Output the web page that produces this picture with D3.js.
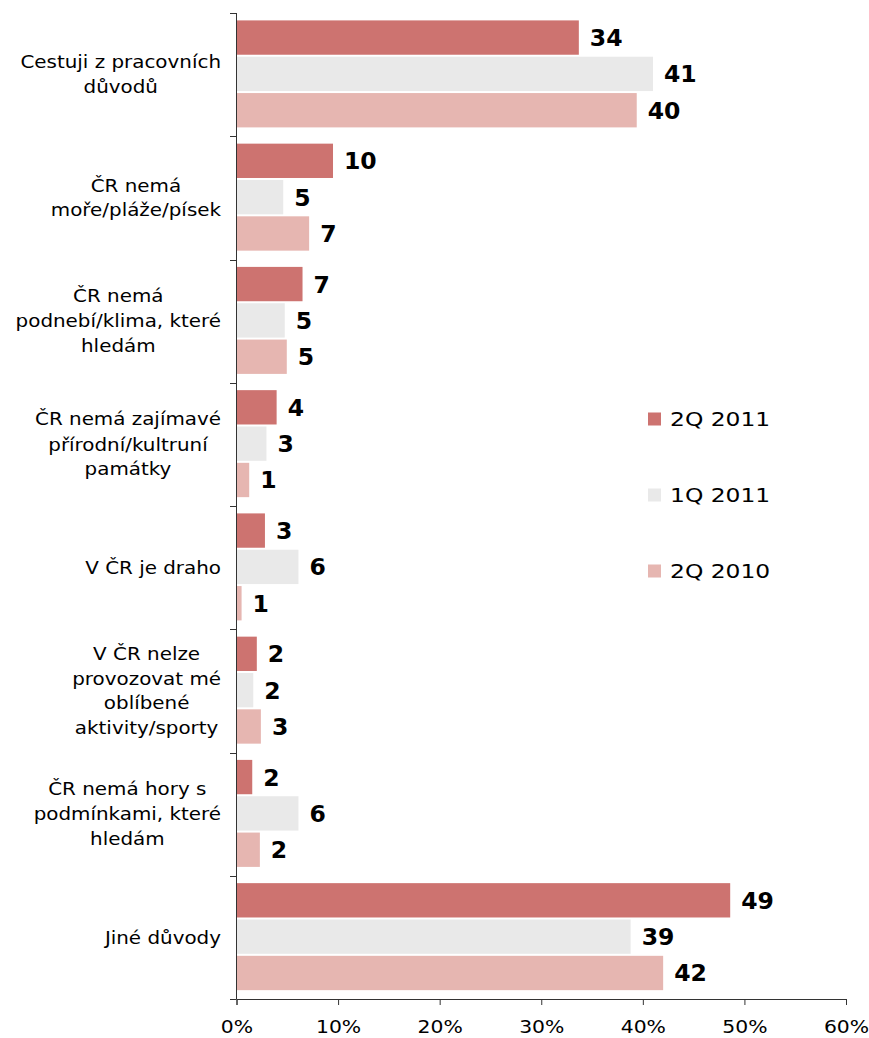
<!DOCTYPE html>
<html><head><meta charset="utf-8">
<script src="https://cdn.jsdelivr.net/npm/d3@7"></script>
<style>body{margin:0;background:#fff}svg{display:block}</style>
</head><body>
<svg id="c" width="869" height="1038"></svg>
<script>
const categories = [
  ["Cestuji z pracovních","důvodů"],
  ["ČR nemá","moře/pláže/písek"],
  ["ČR nemá","podnebí/klima, které","hledám"],
  ["ČR nemá zajímavé","přírodní/kultruní","památky"],
  ["V ČR je draho"],
  ["V ČR nelze","provozovat mé","oblíbené","aktivity/sporty"],
  ["ČR nemá hory s","podmínkami, které","hledám"],
  ["Jiné důvody"]
];
const seriesNames = ["2Q 2011","1Q 2011","2Q 2010"];
const s2Q2011 = [33.7, 9.5, 6.5, 3.95, 2.8, 2.0, 1.55, 48.6];
const s1Q2011 = [41.0, 4.6, 4.75, 2.95, 6.1, 1.65, 6.1, 38.8];
const s2Q2010 = [39.4, 7.15, 4.95, 1.25, 0.5, 2.4, 2.3, 42.0];
const lab2Q2011 = ["34","10","7","4","3","2","2","49"];
const lab1Q2011 = ["41","5","5","3","6","2","6","39"];
const lab2Q2010 = ["40","7","5","1","1","3","2","42"];
const xTicks = [0,10,20,30,40,50,60];
const colors = ["#CD7370","#E9E9E9","#E6B6B1"];

const series = [s2Q2011, s1Q2011, s2Q2010];
const labels = [lab2Q2011, lab1Q2011, lab2Q2010];

const svg = d3.select("#c");
const x = d3.scaleLinear().domain([0,60]).range([236.5, 846]);
const y = d3.scaleBand().domain(d3.range(categories.length)).range([13, 999]).padding(0);
const yi = d3.scaleBand().domain([0,1,2]).range([7.4, 114.4]).paddingInner(0.055).paddingOuter(0);

const txtFont = "DejaVu Sans, Verdana, sans-serif";

// bars
const g = svg.append("g");
categories.forEach((c, ci) => {
  series.forEach((s, si) => {
    const top = y(ci) + yi(si);
    g.append("rect")
      .attr("x", x(0)).attr("y", top)
      .attr("width", x(s[ci]) - x(0)).attr("height", yi.bandwidth())
      .attr("fill", colors[si]);
    g.append("text")
      .attr("x", x(s[ci]) + 11).attr("y", top + yi.bandwidth()/2)
      .attr("dy", "0.36em")
      .attr("font-family", txtFont).attr("font-weight", "bold").attr("font-size", 23.5)
      .attr("fill", "#000")
      .text(labels[si][ci]);
  });
});

// left axis line and ticks
const ax = svg.append("g").attr("stroke", "#333").attr("stroke-width", 1);
ax.append("line").attr("x1", 236.5).attr("x2", 236.5).attr("y1", 13).attr("y2", 999);
const bounds = categories.map((c,i)=>y(i)).concat([999]);
bounds.forEach(b => {
  ax.append("line").attr("x1", 230).attr("x2", 236.5).attr("y1", Math.round(b)+0.5).attr("y2", Math.round(b)+0.5);
});

// bottom axis
const xa = svg.append("g").attr("transform", "translate(0,999)")
  .call(d3.axisBottom(x).tickValues(xTicks).tickFormat(d => d + "%").tickSizeOuter(0).tickSize(6).tickPadding(15));
xa.select(".domain").attr("stroke", "#333");
xa.selectAll(".tick line").attr("stroke", "#333");
xa.selectAll("text").attr("font-family", txtFont).attr("font-size", 18.5).attr("fill", "#000")
  .attr("transform", "scale(1.1,1)");

// category labels (centered block, right edge at ~221)
const sx = 1.17;
const lh = 25;
categories.forEach((lines, ci) => {
  const cy = y(ci) + y.bandwidth()/2;
  const tg = svg.append("g");
  const ts = lines.map((l, li) => tg.append("text")
    .attr("x", 0).attr("y", (li - (lines.length-1)/2) * lh)
    .attr("dy", "0.36em")
    .attr("text-anchor", "middle")
    .attr("font-family", txtFont).attr("font-size", 17).attr("fill", "#000")
    .text(l));
  const maxW = d3.max(ts, t => t.node().getComputedTextLength()) * sx;
  const cx = 221 - maxW/2;
  tg.attr("transform", `translate(${cx},${cy}) scale(${sx},1)`);
});

// legend
const legY = [419, 495, 571];
seriesNames.forEach((n, i) => {
  svg.append("rect").attr("x", 648).attr("y", legY[i] - 6.5).attr("width", 13).attr("height", 13).attr("fill", colors[i]);
  svg.append("g").attr("transform", `translate(670,${legY[i]}) scale(1.17,1)`)
    .append("text").attr("dy", "0.36em")
    .attr("font-family", txtFont).attr("font-size", 20).attr("fill", "#000")
    .text(n);
});
</script>
</body></html>
